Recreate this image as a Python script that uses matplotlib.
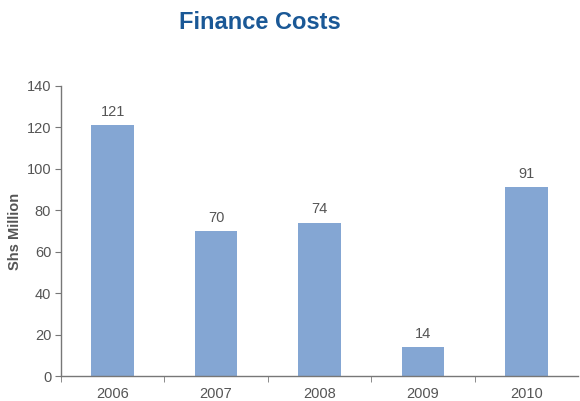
import matplotlib.pyplot as plt
import numpy as np

years = ['2006', '2007', '2008', '2009', '2010']
costs = [121, 70, 74, 14, 91]

bar_color = '#84a6d3'
text_color = '#555555'
axis_color = '#777777'

plt.rcParams['font.family'] = ['Liberation Sans', 'DejaVu Sans']

fig = plt.figure(figsize=(5.80, 4.01), dpi=100)
ax = fig.add_axes([0.105, 0.062, 0.892, 0.724])

x = np.arange(len(years))
bars = ax.bar(x, costs, width=0.41, color=bar_color, zorder=2)

# value labels above each bar
for xi, v in zip(x, costs):
    ax.text(xi, v + 3, str(v), ha='center', va='bottom', fontsize=10.5, color=text_color)

ax.set_xlim(-0.5, len(years) - 0.5)
ax.set_ylim(0, 140)
ax.set_yticks(range(0, 141, 20))
ax.set_xticks(x)
ax.set_xticklabels(years)
ax.set_xticks(np.arange(-0.5, len(years) - 0.5, 1), minor=True)
ax.tick_params(axis='x', which='major', length=0, pad=8, labelsize=10.5, labelcolor=text_color)
ax.tick_params(axis='x', which='minor', length=4, color=axis_color, direction='out')
ax.tick_params(axis='y', length=4, color=axis_color, labelsize=10.5, labelcolor=text_color, pad=3)

for side in ['top', 'right']:
    ax.spines[side].set_visible(False)
for side in ['left', 'bottom']:
    ax.spines[side].set_color(axis_color)
    ax.spines[side].set_linewidth(1.0)

ax.set_ylabel('Shs Million', fontsize=10.5, fontweight='bold', color=text_color)
ax.yaxis.set_label_coords(-0.075, 0.5)

fig.text(0.448, 0.945, 'Finance Costs', ha='center', va='center', fontsize=17,
         fontweight='bold', color='#1a5896')

fig.savefig('out.png', dpi=100)
